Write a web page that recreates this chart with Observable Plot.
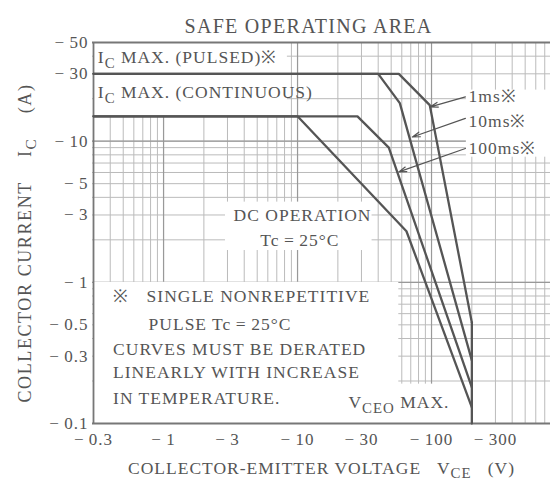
<!DOCTYPE html>
<html><head><meta charset="utf-8">
<script src="https://cdn.jsdelivr.net/npm/d3@7"></script>
<script src="https://cdn.jsdelivr.net/npm/@observablehq/plot@0.6"></script>
<style>
html,body{margin:0;padding:0;background:#fff;overflow:hidden;}
#chart text{letter-spacing:1px;}
</style></head><body><div id="chart"></div>
<script>
// ---- tick labels ----
const xTicks = [-0.3, -1, -3, -10, -30, -100, -300];
const yTicks = [-50, -30, -10, -5, -3, -1, -0.5, -0.3, -0.1];
// ---- log-paper grid ----
const xGrid = [-0.3,-0.4,-0.5,-0.6,-0.7,-0.8,-0.9,-1,-2,-3,-4,-5,-6,-7,-8,-9,-10,-20,-30,-40,-50,-60,-70,-80,-90,-100,-200,-300,-400,-500,-600,-700,-800,-900,-1000];
const xGridMajor = [-1, -10, -100, -1000];
const yGrid = [-0.1,-0.2,-0.3,-0.4,-0.5,-0.6,-0.7,-0.8,-0.9,-1,-2,-3,-4,-5,-6,-7,-8,-9,-10,-20,-30,-40,-50];
const yGridMajor = [-0.1, -1, -10];
// ---- SOA curves (VCE in V, IC in A) ----
const curveNames = ["1ms", "10ms", "100ms", "DC", "VCEO"];
const vce1ms = [-0.3, -57, -97, -200];
const ic1ms = [-30, -30, -18, -0.52];
const vce10ms = [-0.3, -40, -58, -200];
const ic10ms = [-30, -30, -18.6, -0.28];
const vce100ms = [-0.3, -28, -48, -200];
const ic100ms = [-15, -15, -9, -0.18];
const vceDC = [-0.3, -10, -65, -200];
const icDC = [-15, -15, -2.3, -0.13];
const vceMax = [-200, -200];
const icMax = [-0.52, -0.1];
// ---- annotation texts ----
const startTexts = ["I_{C} MAX. (PULSED)※", "I_{C} MAX. (CONTINUOUS)", "※", "SINGLE NONREPETITIVE", "PULSE Tc\u2009=\u200925°C", "CURVES MUST BE DERATED", "LINEARLY WITH INCREASE", "IN TEMPERATURE.", "V_{CEO} MAX.", "1ms※", "10ms※", "100ms※"];
const startX = [-0.323, -0.323, -0.42, -0.747, -0.773, -0.42, -0.42, -0.42, -24, -189, -189, -189];
const startY = [-39.4, -22, -0.80, -0.80, -0.504, -0.335, -0.23, -0.15, -0.141, -20.6, -13.7, -8.88];
const midTexts = ["DC OPERATION", "Tc\u2009=\u200925°C"];
const midX = [-10.9, -10.4];
const midY = [-2.99, -1.98];
// ---- arrows from labels to curves ----
const arrowTailX = [-179, -179, -179];
const arrowTailY = [-20.6, -14.5, -8.88];
const arrowHeadX = [-98, -72, -57];
const arrowHeadY = [-17.5, -10.7, -6.06];
// ---- white label panels (data coords) ----
const panelX1 = [-0.3, -2.9, -0.3, -57, -182];
const panelX2 = [-8.4, -36, -57, -160, -1000];
const panelY1 = [-50, -3.7, -1, -0.19, -23];
const panelY2 = [-15, -1.68, -0.1, -0.1, -7.7];

const curves = [
  [vce1ms, ic1ms], [vce10ms, ic10ms], [vce100ms, ic100ms], [vceDC, icDC], [vceMax, icMax]
].flatMap(([vs, is], k) => vs.map((v, i) => ({name: curveNames[k], vce: v, ic: is[i]})));
const panels = panelX1.map((d, i) => ({x1: d, x2: panelX2[i], y1: panelY1[i], y2: panelY2[i]}));
const starts = startTexts.map((t, i) => ({t, x: startX[i], y: startY[i]}));
const mids = midTexts.map((t, i) => ({t, x: midX[i], y: midY[i]}));
const arrows = arrowTailX.map((d, i) => ({x1: d, y1: arrowTailY[i], x2: arrowHeadX[i], y2: arrowHeadY[i]}));
const fmt = d => "\u2212\u2009" + Math.abs(d);
const ink = "#555";

const chart = Plot.plot({
  width: 550, height: 491,
  marginTop: 42, marginBottom: 68, marginLeft: 92, marginRight: 0,
  x: {type: "log", domain: [-0.3, -1000], range: [93, 565], axis: null},
  y: {type: "log", domain: [-0.1, -50], range: [423, 42], axis: null},
  style: {fontFamily: "'Liberation Serif','DejaVu Serif',serif", fontSize: "16px", color: ink, background: "#fff"},
  marks: [
    Plot.ruleX(xGrid, {stroke: "#bbb", strokeWidth: 1}),
    Plot.ruleY(yGrid, {stroke: "#bbb", strokeWidth: 1}),
    Plot.ruleX(xGridMajor, {stroke: "#999", strokeWidth: 1.2}),
    Plot.ruleY(yGridMajor, {stroke: "#999", strokeWidth: 1.2}),
    Plot.rect(panels, {x1: "x1", x2: "x2", y1: "y1", y2: "y2", fill: "#fff", inset: 0}),
    Plot.ruleX([-0.3], {stroke: "#777", strokeWidth: 1.8}),
    Plot.ruleY([-0.1, -50], {stroke: "#777", strokeWidth: 1.8}),
    Plot.line(curves, {x: "vce", y: "ic", z: "name", stroke: ink, strokeWidth: 2.3, strokeLinejoin: "miter"}),
    Plot.arrow(arrows, {x1: "x1", y1: "y1", x2: "x2", y2: "y2", stroke: ink, strokeWidth: 1.2, headLength: 10, headAngle: 35}),
    Plot.text(xTicks, {x: d => d, frameAnchor: "bottom", dy: 21, text: fmt, fontSize: 17, fill: ink}),
    Plot.text(yTicks, {y: d => d, frameAnchor: "left", dx: -4, textAnchor: "end", text: fmt, fontSize: 17, fill: ink}),
    Plot.text(starts, {x: "x", y: "y", text: "t", textAnchor: "start", fontSize: 17.5, fill: ink}),
    Plot.text(mids, {x: "x", y: "y", text: "t", textAnchor: "middle", fontSize: 17.5, fill: ink}),
    Plot.text(["SAFE OPERATING AREA"], {frameAnchor: "top", dx: -13, dy: -24, fontSize: 20, fill: ink}),
    Plot.text(["COLLECTOR CURRENT    I_{C}    (A)"], {frameAnchor: "left", textAnchor: "middle", rotate: -90, dx: -67, dy: 10, fontSize: 18, fill: ink}),
    Plot.text(["COLLECTOR-EMITTER VOLTAGE   V_{CE}   (V)"], {frameAnchor: "bottom", dy: 50, fontSize: 17.5, fill: ink})
  ]
});
document.getElementById("chart").appendChild(chart);

// subscripts (real text kept, rendered as tspans)
const svgNS = "http://www.w3.org/2000/svg";
chart.querySelectorAll("text").forEach(el => {
  const nodes = el.querySelectorAll("tspan").length ? [...el.querySelectorAll("tspan")] : [el];
  nodes.forEach(node => {
    const s = node.textContent;
    if (!s.includes("_{")) return;
    const fs = parseFloat(getComputedStyle(node).fontSize) || 16;
    node.textContent = "";
    let shifted = false;
    for (const part of s.split(/(_\{[^}]*\})/)) {
      if (!part) continue;
      const t = document.createElementNS(svgNS, "tspan");
      const m = part.match(/^_\{(.*)\}$/);
      if (m) { t.textContent = m[1]; t.setAttribute("font-size", fs * 0.85); t.setAttribute("dy", fs * 0.28); shifted = true; }
      else { t.textContent = part; if (shifted) { t.setAttribute("dy", -fs * 0.28); shifted = false; } }
      node.appendChild(t);
    }
  });
  if (el.textContent === "SAFE OPERATING AREA") el.style.letterSpacing = "1.3px";
  if (el.textContent.startsWith("COLLECTOR CURRENT")) el.style.letterSpacing = "1.6px";
});
</script></body></html>
